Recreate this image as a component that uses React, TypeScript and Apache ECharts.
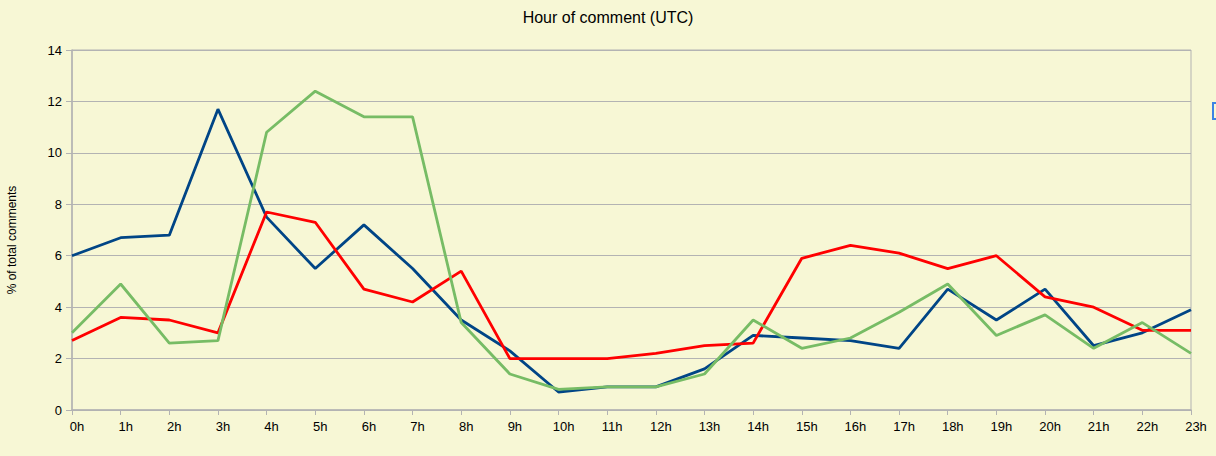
import React, { useEffect, useRef } from "react";
import * as echarts from "echarts";

const hours = ["0h","1h","2h","3h","4h","5h","6h","7h","8h","9h","10h","11h","12h","13h","14h","15h","16h","17h","18h","19h","20h","21h","22h","23h"];
const blueSeries = [6.0, 6.7, 6.8, 11.7, 7.5, 5.5, 7.2, 5.5, 3.5, 2.3, 0.7, 0.9, 0.9, 1.6, 2.9, 2.8, 2.7, 2.4, 4.7, 3.5, 4.7, 2.5, 3.0, 3.9];
const redSeries = [2.7, 3.6, 3.5, 3.0, 7.7, 7.3, 4.7, 4.2, 5.4, 2.0, 2.0, 2.0, 2.2, 2.5, 2.6, 5.9, 6.4, 6.1, 5.5, 6.0, 4.4, 4.0, 3.1, 3.1];
const greenSeries = [3.0, 4.9, 2.6, 2.7, 10.8, 12.4, 11.4, 11.4, 3.4, 1.4, 0.8, 0.9, 0.9, 1.4, 3.5, 2.4, 2.8, 3.8, 4.9, 2.9, 3.7, 2.4, 3.4, 2.2];

const FONT = "'Liberation Sans', Arial, sans-serif";
const AXIS = "#b3b3b3";

export default function App() {
  const ref = useRef<HTMLDivElement>(null);
  useEffect(() => {
    if (!ref.current) return;
    const chart = echarts.init(ref.current, undefined, { renderer: "svg" });
    chart.setOption({
      animation: false,
      backgroundColor: "#f7f7d5",
      textStyle: { fontFamily: FONT },
      title: {
        text: "Hour of comment (UTC)",
        left: "center",
        top: 4,
        textStyle: { fontFamily: FONT, fontSize: 16, fontWeight: "normal", color: "#000" },
      },
      grid: {
        left: 72,
        right: 25,
        top: 50,
        bottom: 46,
        show: true,
        borderColor: AXIS,
        borderWidth: 1,
        backgroundColor: "transparent",
      },
      xAxis: {
        type: "category",
        data: hours,
        boundaryGap: false,
        axisLine: { lineStyle: { color: AXIS, width: 1.5 } },
        axisTick: { show: true, length: 5, lineStyle: { color: AXIS } },
        axisLabel: {
          color: "#000",
          fontSize: 13,
          fontFamily: FONT,
          margin: 10,
          interval: 0,
          padding: [0, 0, 0, 10],
        },
        splitLine: { show: false },
      },
      yAxis: {
        type: "value",
        min: 0,
        max: 14,
        interval: 2,
        axisLine: { show: true, lineStyle: { color: AXIS, width: 1.5 } },
        axisTick: { show: true, length: 6, lineStyle: { color: AXIS } },
        axisLabel: { color: "#000", fontSize: 13, fontFamily: FONT, margin: 10 },
        splitLine: { show: true, lineStyle: { color: AXIS, width: 1 } },
      },
      graphic: [
        {
          type: "text",
          x: 12,
          y: 240,
          rotation: Math.PI / 2,
          style: {
            text: "% of total comments",
            fontSize: 12,
            fontFamily: FONT,
            fill: "#000",
            align: "center",
            verticalAlign: "middle",
          },
        },
        {
          type: "rect",
          shape: { x: 1213, y: 103, width: 16, height: 16 },
          style: { fill: "none", stroke: "#3c84e4", lineWidth: 2 },
        },
      ],
      series: [
        {
          type: "line",
          data: blueSeries,
          showSymbol: false,
          lineStyle: { color: "#004586", width: 2.8 },
          itemStyle: { color: "#004586" },
        },
        {
          type: "line",
          data: redSeries,
          showSymbol: false,
          lineStyle: { color: "#ff0000", width: 2.8 },
          itemStyle: { color: "#ff0000" },
        },
        {
          type: "line",
          data: greenSeries,
          showSymbol: false,
          lineStyle: { color: "#77bc65", width: 2.8 },
          itemStyle: { color: "#77bc65" },
        },
      ],
    });
    return () => chart.dispose();
  }, []);
  return (
    <div
      ref={ref}
      style={{ position: "fixed", left: 0, top: 0, width: 1216, height: 456 }}
    />
  );
}
